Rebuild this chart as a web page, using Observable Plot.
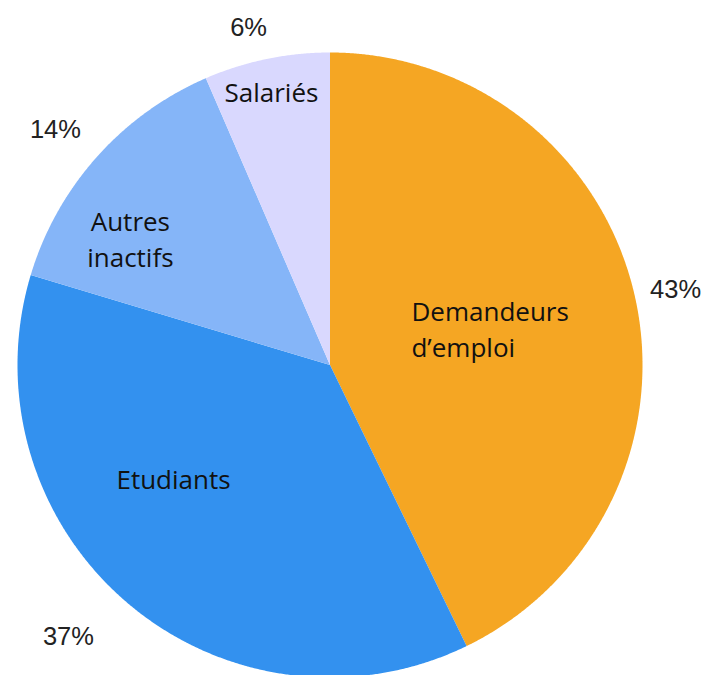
<!DOCTYPE html>
<html>
<head>
<meta charset="utf-8">
<script src="https://cdn.jsdelivr.net/npm/d3@7"></script>
<script src="https://cdn.jsdelivr.net/npm/@observablehq/plot@0.6"></script>
<style>
  html, body { margin: 0; padding: 0; background: #fff; }
  #chart svg { display: block; }
</style>
</head>
<body>
<div id="chart"></div>
<script>
// ---- data ----
const categories = ["Demandeurs d’emploi", "Etudiants", "Autres inactifs", "Salariés"];
const values = [42.8, 36.85, 13.85, 6.5];
const sliceLabels = ["Demandeurs\nd’emploi", "Etudiants", "Autres\ninactifs", "Salariés"];
const percentLabels = ["43%", "37%", "14%", "6%"];
const colors = ["#F5A623", "#3391EF", "#85B5F8", "#D9D8FE"];

// ---- layout (label placement relative to each slice's mid-angle, in radii) ----
const innerPlace = [
  {r: 0.283, turn: -9.95, anchor: "start"},
  {r: 0.622, turn: 13.2, anchor: "middle"},
  {r: 0.753, turn: -9.7, anchor: "middle"},
  {r: 0.889, turn: -0.46, anchor: "middle"}
];
const outerPlace = [
  {r: 1.131, turn: 0.83},
  {r: 1.209, turn: 3.4},
  {r: 1.155, turn: -1.2},
  {r: 1.108, turn: -1.9}
];

const arcs = d3.pie().sort(null).value(d => d)(values);

// slice polygons (unit circle, y up, angle clockwise from 12 o'clock)
const rows = [];
arcs.forEach((a, i) => {
  rows.push({name: categories[i], x: 0, y: 0});
  const n = Math.max(2, Math.ceil((a.endAngle - a.startAngle) / (Math.PI / 720)));
  for (let k = 0; k <= n; k++) {
    const t = a.startAngle + (a.endAngle - a.startAngle) * k / n;
    rows.push({name: categories[i], x: Math.sin(t), y: Math.cos(t)});
  }
});

const polar = (a, place) => {
  const t = (a.startAngle + a.endAngle) / 2 + place.turn * Math.PI / 180;
  return {x: place.r * Math.sin(t), y: place.r * Math.cos(t)};
};

const inner = arcs.map((a, i) => ({...polar(a, innerPlace[i]), text: sliceLabels[i], anchor: innerPlace[i].anchor}));
const outer = arcs.map((a, i) => ({...polar(a, outerPlace[i]), text: percentLabels[i]}));

const R = 312.5;
const chart = Plot.plot({
  width: 706,
  height: 675,
  margin: 0,
  x: {domain: [-329.5 / R, 376.5 / R], axis: null},
  y: {domain: [-310.5 / R, 364.5 / R], axis: null},
  color: {domain: categories, range: colors},
  marks: [
    Plot.line(rows, {x: "x", y: "y", z: "name", fill: "name", stroke: "none", curve: "linear-closed"}),
    Plot.text(inner.filter(d => d.anchor === "middle"), {
      x: "x", y: "y", text: "text", textAnchor: "middle", lineHeight: 1.4, dy: -3,
      fontFamily: "Open Sans", fontSize: 26, fill: "#111"
    }),
    Plot.text(inner.filter(d => d.anchor === "start"), {
      x: "x", y: "y", text: "text", textAnchor: "start", lineHeight: 1.4, dy: -3,
      fontFamily: "Open Sans", fontSize: 26, fill: "#111"
    }),
    Plot.text(outer, {
      x: "x", y: "y", text: "text", textAnchor: "middle", dy: -1,
      fontFamily: "Liberation Sans", fontSize: 25.5, fill: "#222"
    })
  ]
});
document.getElementById("chart").appendChild(chart);
</script>
</body>
</html>
